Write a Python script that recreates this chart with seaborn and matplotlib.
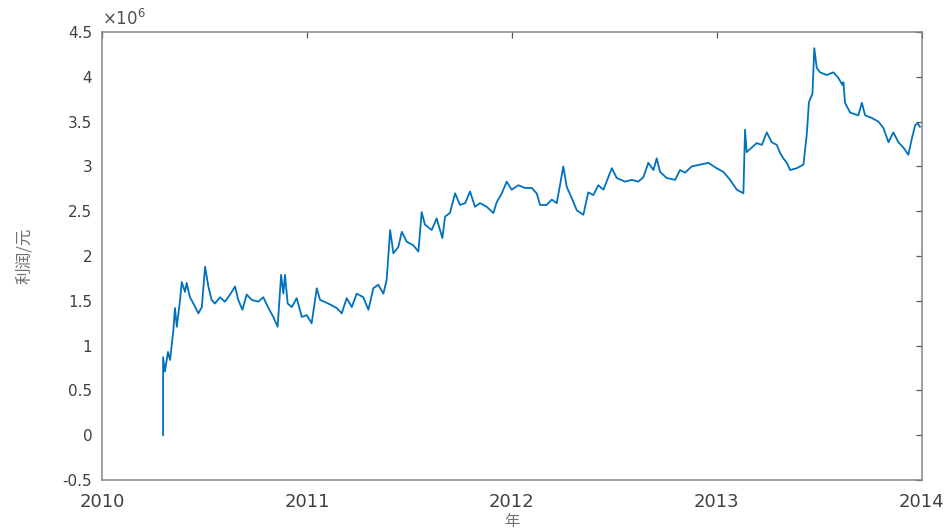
import matplotlib
matplotlib.use('Agg')
import matplotlib.pyplot as plt
import seaborn as sns

# profit curve (x in decimal years, y in yuan / 1e6)
years = [
    2010.298, 2010.298, 2010.307, 2010.322, 2010.332, 2010.339, 2010.348, 2010.356,
    2010.365, 2010.381, 2010.389, 2010.405, 2010.413, 2010.429, 2010.446, 2010.470,
    2010.487, 2010.503, 2010.519, 2010.535, 2010.551, 2010.576, 2010.600, 2010.625,
    2010.649, 2010.665, 2010.685, 2010.706, 2010.731, 2010.763, 2010.787, 2010.812,
    2010.836, 2010.857, 2010.874, 2010.885, 2010.893, 2010.906, 2010.926, 2010.950,
    2010.975, 2010.999, 2011.023, 2011.048, 2011.064, 2011.104, 2011.145, 2011.170,
    2011.194, 2011.219, 2011.243, 2011.275, 2011.300, 2011.324, 2011.348, 2011.373,
    2011.389, 2011.406, 2011.422, 2011.446, 2011.463, 2011.487, 2011.519, 2011.544,
    2011.560, 2011.576, 2011.609, 2011.633, 2011.661, 2011.674, 2011.698, 2011.723,
    2011.747, 2011.772, 2011.796, 2011.820, 2011.845, 2011.877, 2011.910, 2011.926,
    2011.951, 2011.975, 2011.999, 2012.032, 2012.064, 2012.097, 2012.121, 2012.138,
    2012.170, 2012.195, 2012.219, 2012.235, 2012.251, 2012.268, 2012.292, 2012.317,
    2012.349, 2012.373, 2012.398, 2012.422, 2012.447, 2012.488, 2012.512, 2012.553,
    2012.585, 2012.617, 2012.642, 2012.666, 2012.691, 2012.707, 2012.723, 2012.756,
    2012.797, 2012.821, 2012.845, 2012.878, 2012.919, 2012.959, 2012.999, 2013.032,
    2013.065, 2013.098, 2013.130, 2013.138, 2013.146, 2013.171, 2013.195, 2013.220,
    2013.244, 2013.268, 2013.293, 2013.309, 2013.325, 2013.342, 2013.358, 2013.390,
    2013.423, 2013.439, 2013.450, 2013.467, 2013.476, 2013.488, 2013.504, 2013.537,
    2013.569, 2013.593, 2013.613, 2013.618, 2013.626, 2013.651, 2013.691, 2013.708,
    2013.724, 2013.757, 2013.789, 2013.813, 2013.838, 2013.862, 2013.886, 2013.911,
    2013.935, 2013.952, 2013.968, 2013.981, 2013.992,
]
profit_m = [
    0.00, 0.87, 0.71, 0.93, 0.84, 0.98, 1.17, 1.42,
    1.21, 1.51, 1.71, 1.60, 1.70, 1.54, 1.47, 1.36,
    1.43, 1.88, 1.66, 1.51, 1.47, 1.54, 1.49, 1.57,
    1.66, 1.51, 1.40, 1.57, 1.51, 1.49, 1.54, 1.42,
    1.32, 1.21, 1.79, 1.58, 1.79, 1.47, 1.43, 1.53,
    1.32, 1.34, 1.25, 1.64, 1.51, 1.47, 1.42, 1.36,
    1.53, 1.43, 1.58, 1.54, 1.40, 1.64, 1.68, 1.58,
    1.73, 2.29, 2.03, 2.10, 2.27, 2.16, 2.12, 2.05,
    2.49, 2.35, 2.29, 2.42, 2.20, 2.44, 2.48, 2.70,
    2.57, 2.59, 2.72, 2.55, 2.59, 2.55, 2.48, 2.60,
    2.70, 2.83, 2.74, 2.79, 2.76, 2.76, 2.70, 2.57,
    2.57, 2.63, 2.59, 2.79, 3.00, 2.77, 2.65, 2.51,
    2.46, 2.71, 2.68, 2.79, 2.74, 2.98, 2.87, 2.83,
    2.85, 2.83, 2.88, 3.04, 2.96, 3.09, 2.94, 2.87,
    2.85, 2.96, 2.93, 3.00, 3.02, 3.04, 2.98, 2.94,
    2.85, 2.74, 2.70, 3.41, 3.16, 3.21, 3.26, 3.24,
    3.38, 3.27, 3.24, 3.15, 3.09, 3.04, 2.96, 2.98,
    3.02, 3.35, 3.72, 3.81, 4.32, 4.10, 4.05, 4.02,
    4.05, 3.99, 3.91, 3.94, 3.71, 3.60, 3.57, 3.71,
    3.57, 3.54, 3.50, 3.43, 3.27, 3.38, 3.27, 3.21,
    3.13, 3.31, 3.46, 3.48, 3.44,
]
profit = [v * 1e6 for v in profit_m]

year_ticks = [2010, 2011, 2012, 2013, 2014]
y_ticks_m = [-0.5, 0, 0.5, 1, 1.5, 2, 2.5, 3, 3.5, 4, 4.5]
y_tick_labels = ['-0.5', '0', '0.5', '1', '1.5', '2', '2.5', '3', '3.5', '4', '4.5']

sns.set_style("white")
plt.rcParams['font.family'] = ['DejaVu Sans']
cjk = ['Noto Sans CJK SC', 'DejaVu Sans']

fig = plt.figure(figsize=(9.49, 5.3), dpi=100)
ax = fig.add_axes([0.1075, 0.0943, 0.8637, 0.8453])

sns.lineplot(x=years, y=profit, ax=ax, estimator=None, sort=False,
             color='#0072BD', linewidth=1.3)

ax.set_xlim(2010, 2014)
ax.set_ylim(-0.5e6, 4.5e6)
ax.set_xticks(year_ticks)
ax.set_xticklabels([str(y) for y in year_ticks])
ax.set_yticks([v * 1e6 for v in y_ticks_m])
ax.set_yticklabels(y_tick_labels)

# MATLAB style exponent above the y axis
ax.text(0.0, 1.006, r'$\times10^{6}$', transform=ax.transAxes,
        ha='left', va='bottom', fontsize=12, color='#505050')

for s in ax.spines.values():
    s.set_visible(True)
    s.set_color('#858585')
    s.set_linewidth(1.1)

ax.tick_params(direction='in', top=True, right=True, length=4, width=0.9,
               color='#555555', labelcolor='#404040')
ax.tick_params(axis='y', labelsize=11, pad=7)
ax.tick_params(axis='x', labelsize=13, pad=9)

ax.set_ylabel('利润/元', fontfamily=cjk, fontsize=12, color='#707070')
ax.yaxis.set_label_coords(-0.084, 0.5)
ax.set_xlabel('年', fontfamily=cjk, fontsize=11, color='#707070')
ax.xaxis.set_label_coords(0.5, -0.074)

plt.savefig('out.png', dpi=100)
plt.close()
